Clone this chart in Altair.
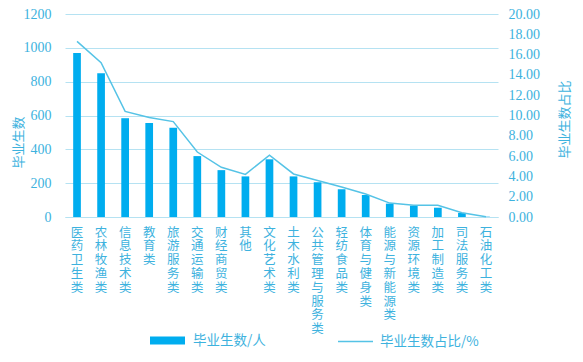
import altair as alt
import pandas as pd

categories = ["医药卫生类", "农林牧渔类", "信息技术类", "教育类", "旅游服务类", "交通运输类",
              "财经商贸类", "其他", "文化艺术类", "土木水利类", "公共管理与服务类", "轻纺食品类",
              "体育与健身类", "能源与新能源类", "资源环境类", "加工制造类", "司法服务类", "石油化工类"]
counts = [970, 850, 584, 555, 527, 360, 277, 240, 341, 240, 205, 164, 130, 79, 67, 55, 24, 2]
shares = [17.3, 15.2, 10.4, 9.8, 9.4, 6.4, 4.9, 4.2, 6.1, 4.24, 3.6, 2.95, 2.27, 1.37, 1.15, 1.15, 0.42, 0.02]
left_ticks = [0, 200, 400, 600, 800, 1000, 1200]
right_ticks = [0, 2, 4, 6, 8, 10, 12, 14, 16, 18, 20]

df = pd.DataFrame({"cat": categories, "count": counts, "share": shares})

TXT = "#3DB2DE"
BAR = "#00ADEF"
LINE = "#55C3E6"
GRID = "#B5E2F2"
FONT = "Liberation Serif"
CJK = "Noto Sans CJK SC"

x = alt.X("cat:N", sort=categories, title=None,
          scale=alt.Scale(paddingInner=0.68, paddingOuter=0.34),
          axis=alt.Axis(labelAngle=0, labelExpr="split(datum.label, '')",
                        labelBaseline="top", labelAlign="center", labelLineHeight=13.8,
                        labelFontSize=12.5, labelFont=CJK, labelColor=TXT, labelPadding=9,
                        ticks=False, domain=True, domainColor=GRID, grid=False))

bars = alt.Chart(df).mark_bar(color=BAR).encode(
    x=x,
    y=alt.Y("count:Q", title="毕业生数",
            scale=alt.Scale(domain=[0, 1200], nice=False),
            axis=alt.Axis(values=left_ticks, format="d", grid=True, gridColor=GRID, gridWidth=1,
                          domain=False, ticks=False, labelColor=TXT, labelFont=FONT,
                          labelFontSize=14, labelPadding=14,
                          titleColor=TXT, titleFont=CJK, titleFontSize=13,
                          titleFontWeight="normal", titleAngle=270, titleBaseline="middle",
                          titleAlign="center", titleX=-47, titleY=128)),
    fill=alt.Fill("lb:N", title=None,
                  scale=alt.Scale(domain=["毕业生数/人"], range=[BAR]),
                  legend=alt.Legend(orient="none", legendX=85, legendY=309,
                                    symbolType="M-1,-0.23L1,-0.23L1,0.23L-1,0.23Z",
                                    symbolSize=1225, symbolStrokeWidth=0,
                                    labelOffset=8, padding=0)),
).transform_calculate(lb="'毕业生数/人'")

line = alt.Chart(df).mark_line(color=LINE, strokeWidth=1.5).encode(
    x=x,
    y=alt.Y("share:Q", title="毕业生数占比",
            scale=alt.Scale(domain=[0, 20], nice=False),
            axis=alt.Axis(orient="right", values=right_ticks, format=".2f", grid=False,
                          domain=False, ticks=False, labelColor=TXT, labelFont=FONT,
                          labelFontSize=14, labelPadding=10,
                          titleColor=TXT, titleFont=CJK, titleFontSize=13,
                          titleFontWeight="normal", titleAngle=270, titleBaseline="middle",
                          titleAlign="center", titleX=66, titleY=105)),
    stroke=alt.Stroke("lb:N", title=None,
                      scale=alt.Scale(domain=["毕业生数占比/%"], range=[LINE]),
                      legend=alt.Legend(orient="none", legendX=272, legendY=309,
                                        symbolType="stroke", symbolSize=1225,
                                        symbolStrokeWidth=1.5,
                                        labelOffset=6, padding=0)),
).transform_calculate(lb="'毕业生数占比/%'")

chart = alt.layer(bars, line).resolve_scale(y="independent", fill="independent",
                                             stroke="independent").properties(
    width=433, height=203,
    autosize=alt.AutoSizeParams(type="none"),
    padding={"left": 57, "top": 6, "right": 75, "bottom": 133},
).configure_view(stroke=None).configure_legend(
    labelColor=TXT, labelFont=CJK, labelFontSize=13.5, direction="horizontal"
)

chart.save("out.html", embed_options={"renderer": "svg", "actions": False})
